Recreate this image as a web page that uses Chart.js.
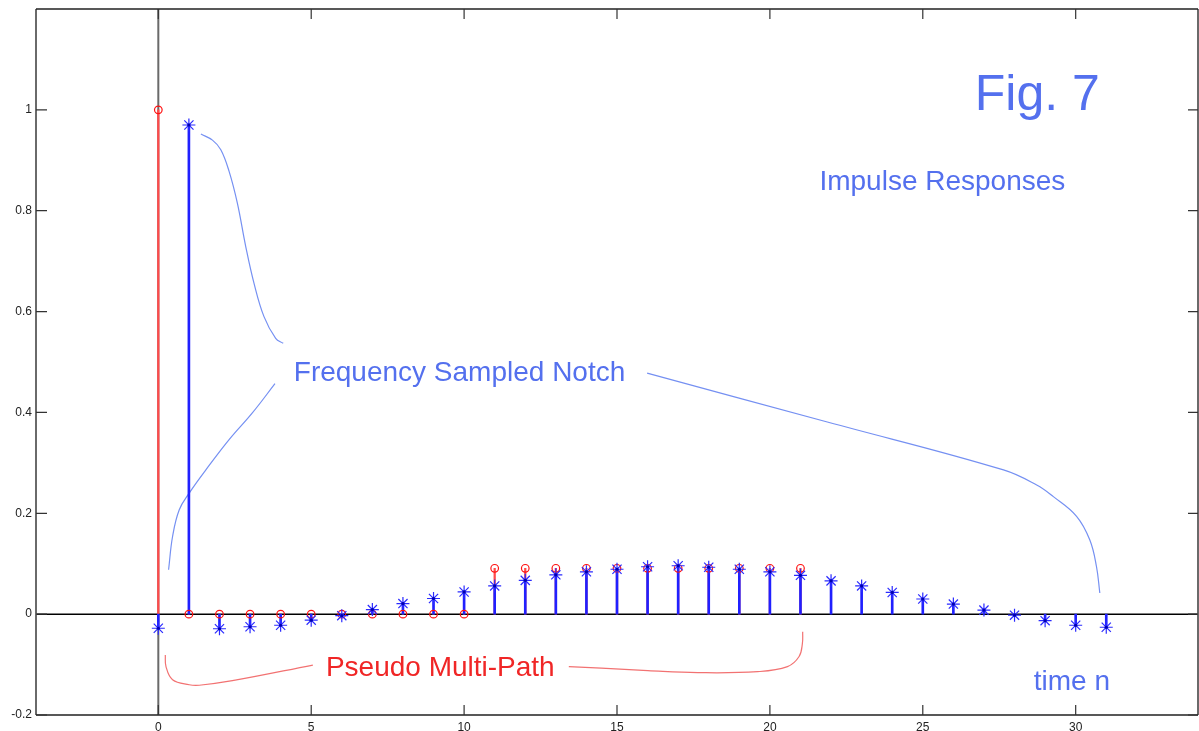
<!DOCTYPE html>
<html>
<head>
<meta charset="utf-8">
<script src="https://cdn.jsdelivr.net/npm/chart.js@4/dist/chart.umd.min.js"></script>
<style>
  html, body { margin: 0; padding: 0; background: #fff; }
  #wrap { width: 1199px; height: 731px; }
</style>
</head>
<body>
<div id="wrap"><canvas id="chart_fig7" width="1199" height="731"></canvas></div>
<script>
// sample index n
const n = [0,1,2,3,4,5,6,7,8,9,10,11,12,13,14,15,16,17,18,19,20,21,22,23,24,25,26,27,28,29,30,31];
// pseudo multi-path impulse response (red circles), n = 0..21
const multiPath = [1, 0,0,0,0,0,0,0,0,0,0,
  0.0909,0.0909,0.0909,0.0909,0.0909,0.0909,0.0909,0.0909,0.0909,0.0909,0.0909];
// frequency sampled notch impulse response (blue asterisks), n = 0..31
const notch = [-0.028, 0.970, -0.029, -0.025, -0.022, -0.012, -0.003, 0.009, 0.021, 0.031, 0.044,
  0.056, 0.067, 0.078, 0.084, 0.089, 0.094, 0.096, 0.093, 0.089, 0.084, 0.077,
  0.066, 0.056, 0.043, 0.030, 0.020, 0.008, -0.002, -0.013, -0.022, -0.026];
const xTicks = [0, 5, 10, 15, 20, 25, 30];
const yTicks = [-0.2, 0, 0.2, 0.4, 0.6, 0.8, 1];

// hand drawn pointer curves, in axis units [n, value]
const notchCurveA = [[1.392,0.952],[1.770,0.940],[2.044,0.921],[2.315,0.878],[2.585,0.815],
  [2.859,0.729],[3.130,0.656],[3.456,0.590],[3.838,0.547],[4.085,0.537]];
const notchCurveB = [[0.336,0.088],[0.466,0.154],[0.685,0.207],[1.011,0.240],[1.555,0.286],
  [2.315,0.346],[3.075,0.399],[3.815,0.457]];
const notchCurveC = [[15.986,0.478],[21.878,0.381],[27.639,0.286],[28.725,0.256],[29.270,0.233],
  [30.029,0.194],[30.463,0.147],[30.681,0.094],[30.789,0.042]];
const pathCurveA = [[0.228,-0.081],[0.251,-0.104],[0.466,-0.130],[1.011,-0.140],[1.337,-0.141],
  [2.423,-0.132],[5.054,-0.101]];
const pathCurveB = [[13.424,-0.104],[14.487,-0.107],[16.009,-0.112],[17.640,-0.116],[19.596,-0.114],
  [20.574,-0.104],[20.955,-0.084],[21.063,-0.058],[21.073,-0.035]];

const blueText = '#5470ee';
const redText = '#f02626';
const notes = [
  { text: 'Fig. 7', x: 26.70, y: 1.000, size: 50, color: blueText },
  { text: 'Impulse Responses', x: 21.62, y: 0.841, size: 28, color: blueText },
  { text: 'Frequency Sampled Notch', x: 4.43, y: 0.463, size: 28, color: blueText },
  { text: 'Pseudo Multi-Path', x: 5.48, y: -0.122, size: 28, color: redText },
  { text: 'time n', x: 28.63, y: -0.151, size: 28, color: blueText }
];

const pts = (xs, ys) => ys.map((v, i) => ({ x: xs[i], y: v }));
const curve = pts => pts.map(p => ({ x: p[0], y: p[1] }));

function curveSet(data, color) {
  return {
    type: 'line', data: curve(data), borderColor: color, borderWidth: 1.2,
    pointRadius: 0, tension: 0.4, fill: false, order: 7
  };
}

const axesDecor = {
  id: 'axesDecor',
  beforeDatasetsDraw(chart) {
    const { ctx, chartArea: a, scales: { x, y } } = chart;
    ctx.save();
    const x0 = x.getPixelForValue(0);
    ctx.strokeStyle = '#6a6a6a';
    ctx.lineWidth = 2;
    ctx.beginPath(); ctx.moveTo(x0, a.top); ctx.lineTo(x0, a.bottom); ctx.stroke();
    const y0 = y.getPixelForValue(0);
    ctx.strokeStyle = '#000';
    ctx.lineWidth = 1.5;
    ctx.beginPath(); ctx.moveTo(a.left, y0); ctx.lineTo(a.right, y0); ctx.stroke();
    ctx.restore();
  },
  afterDatasetsDraw(chart) {
    const { ctx, chartArea: a, scales: { x, y } } = chart;
    ctx.save();
    // box
    ctx.lineWidth = 2;
    ctx.strokeStyle = '#6a6a6a';
    ctx.beginPath();
    ctx.moveTo(a.left, a.top); ctx.lineTo(a.left, a.bottom);
    ctx.moveTo(a.right, a.top); ctx.lineTo(a.right, a.bottom);
    ctx.stroke();
    ctx.lineWidth = 1.5;
    ctx.strokeStyle = '#222';
    ctx.beginPath();
    ctx.moveTo(a.left, a.top); ctx.lineTo(a.right, a.top);
    ctx.moveTo(a.left, a.bottom); ctx.lineTo(a.right, a.bottom);
    ctx.stroke();
    // inward ticks
    ctx.lineWidth = 1.2;
    ctx.strokeStyle = '#333';
    ctx.beginPath();
    xTicks.forEach(v => {
      const px = x.getPixelForValue(v);
      ctx.moveTo(px, a.bottom); ctx.lineTo(px, a.bottom - 10);
      ctx.moveTo(px, a.top); ctx.lineTo(px, a.top + 10);
    });
    yTicks.forEach(v => {
      const py = y.getPixelForValue(v);
      ctx.moveTo(a.left, py); ctx.lineTo(a.left + 11, py);
      ctx.moveTo(a.right, py); ctx.lineTo(a.right - 10, py);
    });
    ctx.stroke();
    // annotations
    ctx.textAlign = 'left';
    ctx.textBaseline = 'alphabetic';
    notes.forEach(t => {
      ctx.font = t.size + 'px "Liberation Sans", Arial, sans-serif';
      ctx.fillStyle = t.color;
      ctx.fillText(t.text, x.getPixelForValue(t.x), y.getPixelForValue(t.y));
    });
    ctx.restore();
  }
};

const ctx_fig = document.getElementById('chart_fig7').getContext('2d');
const fig = new Chart(ctx_fig, {
  type: 'scatter',
  data: {
    datasets: [
      curveSet(notchCurveA, '#7590f2'),
      curveSet(notchCurveB, '#7590f2'),
      curveSet(notchCurveC, '#7590f2'),
      curveSet(pathCurveA, '#f27272'),
      curveSet(pathCurveB, '#f27272'),
      {
        type: 'bar', data: pts(n, multiPath), backgroundColor: '#ff4a4a',
        barThickness: 1.6, grouped: false, order: 6
      },
      {
        type: 'bar', data: pts(n, notch), backgroundColor: '#2020ff',
        barThickness: 2, grouped: false, order: 5
      },
      {
        type: 'scatter', data: pts(n, multiPath), pointStyle: 'circle', pointRadius: 3.8,
        borderColor: '#ff1010', borderWidth: 1.2, backgroundColor: 'rgba(0,0,0,0)', order: 4
      },
      {
        type: 'scatter', data: pts(n, notch), pointStyle: 'star', pointRadius: 6.5,
        borderColor: '#2a2aff', borderWidth: 1.2, order: 3
      },
      {
        type: 'scatter', data: pts(n, notch), pointStyle: 'circle', pointRadius: 1.6,
        backgroundColor: '#0000b0', borderWidth: 0, order: 2
      }
    ]
  },
  options: {
    responsive: false,
    animation: false,
    layout: { autoPadding: false, padding: { top: 9, right: 1, left: 0, bottom: 0 } },
    plugins: {
      legend: { display: false },
      tooltip: { enabled: false }
    },
    scales: {
      x: {
        type: 'linear', min: -4, max: 34, offset: false,
        grid: { display: false, drawTicks: false },
        border: { display: false },
        afterBuildTicks: s => { s.ticks = xTicks.map(v => ({ value: v })); },
        afterFit: s => { s.height = 16; s.paddingLeft = 0; s.paddingRight = 0; },
        ticks: {
          padding: 5, autoSkip: false, maxRotation: 0, color: '#222',
          font: { family: '"Liberation Sans", Arial, sans-serif', size: 12 },
          callback: v => String(v)
        }
      },
      y: {
        type: 'linear', min: -0.2, max: 1.2,
        grid: { display: false, drawTicks: false },
        border: { display: false },
        afterBuildTicks: s => { s.ticks = yTicks.map(v => ({ value: v })); },
        afterFit: s => { s.width = 36; s.paddingTop = 0; s.paddingBottom = 0; },
        ticks: {
          padding: 4, autoSkip: false, color: '#222',
          font: { family: '"Liberation Sans", Arial, sans-serif', size: 12 },
          callback: v => String(Math.round(v * 10) / 10)
        }
      }
    }
  },
  plugins: [axesDecor]
});
</script>
</body>
</html>
